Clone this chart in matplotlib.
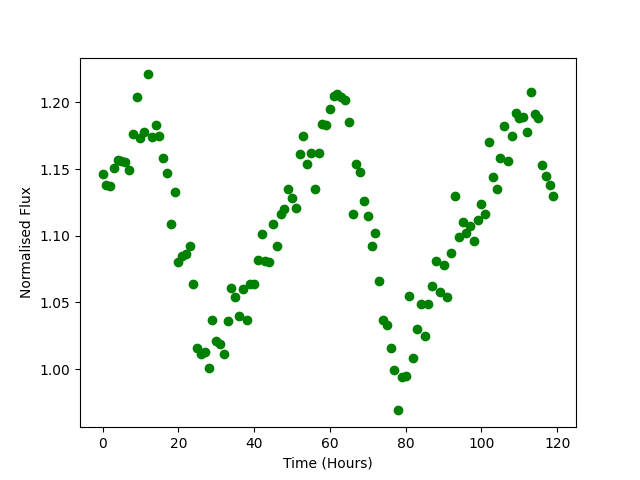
import matplotlib
matplotlib.use("Agg")
import matplotlib.pyplot as plt
import numpy as np

time_hours = list(range(120))
flux = [
    1.146, 1.138, 1.137, 1.151, 1.157, 1.156, 1.155, 1.149, 1.176, 1.204,
    1.173, 1.178, 1.221, 1.174, 1.183, 1.175, 1.158, 1.147, 1.109, 1.133,
    1.080, 1.085, 1.086, 1.092, 1.064, 1.016, 1.011, 1.013, 1.001, 1.037,
    1.021, 1.019, 1.011, 1.036, 1.061, 1.054, 1.040, 1.060, 1.037, 1.064,
    1.064, 1.082, 1.101, 1.081, 1.080, 1.109, 1.092, 1.116, 1.120, 1.135,
    1.128, 1.121, 1.161, 1.175, 1.154, 1.162, 1.135, 1.162, 1.184, 1.183,
    1.195, 1.205, 1.206, 1.204, 1.202, 1.185, 1.116, 1.154, 1.148, 1.126,
    1.115, 1.092, 1.102, 1.066, 1.037, 1.033, 1.016, 0.999, 0.969, 0.994,
    0.995, 1.055, 1.008, 1.030, 1.049, 1.025, 1.049, 1.062, 1.081, 1.058,
    1.078, 1.054, 1.087, 1.130, 1.099, 1.110, 1.102, 1.107, 1.096, 1.112,
    1.124, 1.116, 1.170, 1.144, 1.135, 1.158, 1.182, 1.156, 1.175, 1.192,
    1.188, 1.189, 1.178, 1.208, 1.191, 1.188, 1.153, 1.145, 1.138, 1.130,
]

fig, ax = plt.subplots(figsize=(6.4, 4.8), dpi=100)
ax.plot(time_hours, flux, 'o', color='green')
ax.set_xlabel('Time (Hours)')
ax.set_ylabel('Normalised Flux')
fig.savefig('out.png')
